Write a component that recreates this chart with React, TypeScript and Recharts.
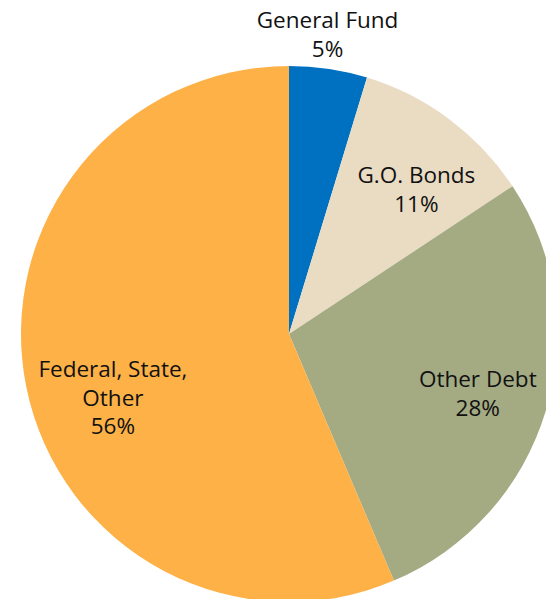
import React from "react";
import { PieChart, Pie, Cell } from "recharts";

const categories = ["General Fund", "G.O. Bonds", "Other Debt", "Federal, State, Other"];
const values = [4.7, 11.0, 27.9, 56.4];
const labelLines = [["General Fund"], ["G.O. Bonds"], ["Other Debt"], ["Federal, State,", "Other"]];
const colors = ["#0070C0", "#E9DCC3", "#A4AB83", "#FDB147"];

const data = categories.map((name, i) => ({ name, value: values[i] }));

const RAD = Math.PI / 180;
const FONT = "'Open Sans', sans-serif";
// small label nudges (style only)
const nudgeX = [-6, 12, 4, 13];
const nudgeY = [-1, 9, 3, 24];

const renderLabel = (props: any) => {
  const { cx, cy, midAngle, outerRadius, percent, index } = props;
  const outside = percent < 0.08;
  const r = outside ? outerRadius * 1.13 : outerRadius * 0.72;
  const x = cx + r * Math.cos(-midAngle * RAD) + nudgeX[index];
  const y = cy + r * Math.sin(-midAngle * RAD) + nudgeY[index];
  const lines = [...labelLines[index], `${Math.round(percent * 100)}%`];
  const lh = 28.5;
  const y0 = y - ((lines.length - 1) * lh) / 2;
  return (
    <text
      x={x}
      y={y0}
      textAnchor="middle"
      dominantBaseline="central"
      fill="#111"
      fontSize={22.5}
      fontFamily={FONT}
    >
      {lines.map((l, i) => (
        <tspan key={i} x={x} y={y0 + i * lh}>
          {l}
        </tspan>
      ))}
    </text>
  );
};

export default function App() {
  return (
    <div style={{ position: "absolute", left: 0, top: 0, width: 546, height: 599, background: "#fff" }}>
      <PieChart width={546} height={599} margin={{ top: 0, right: 0, bottom: 0, left: 0 }}>
        <Pie
          data={data}
          dataKey="value"
          nameKey="name"
          cx={289}
          cy={334}
          outerRadius={268}
          startAngle={90}
          endAngle={-270}
          stroke="none"
          label={renderLabel}
          labelLine={false}
          isAnimationActive={false}
        >
          {data.map((d, i) => (
            <Cell key={i} fill={colors[i]} />
          ))}
        </Pie>
      </PieChart>
    </div>
  );
}
